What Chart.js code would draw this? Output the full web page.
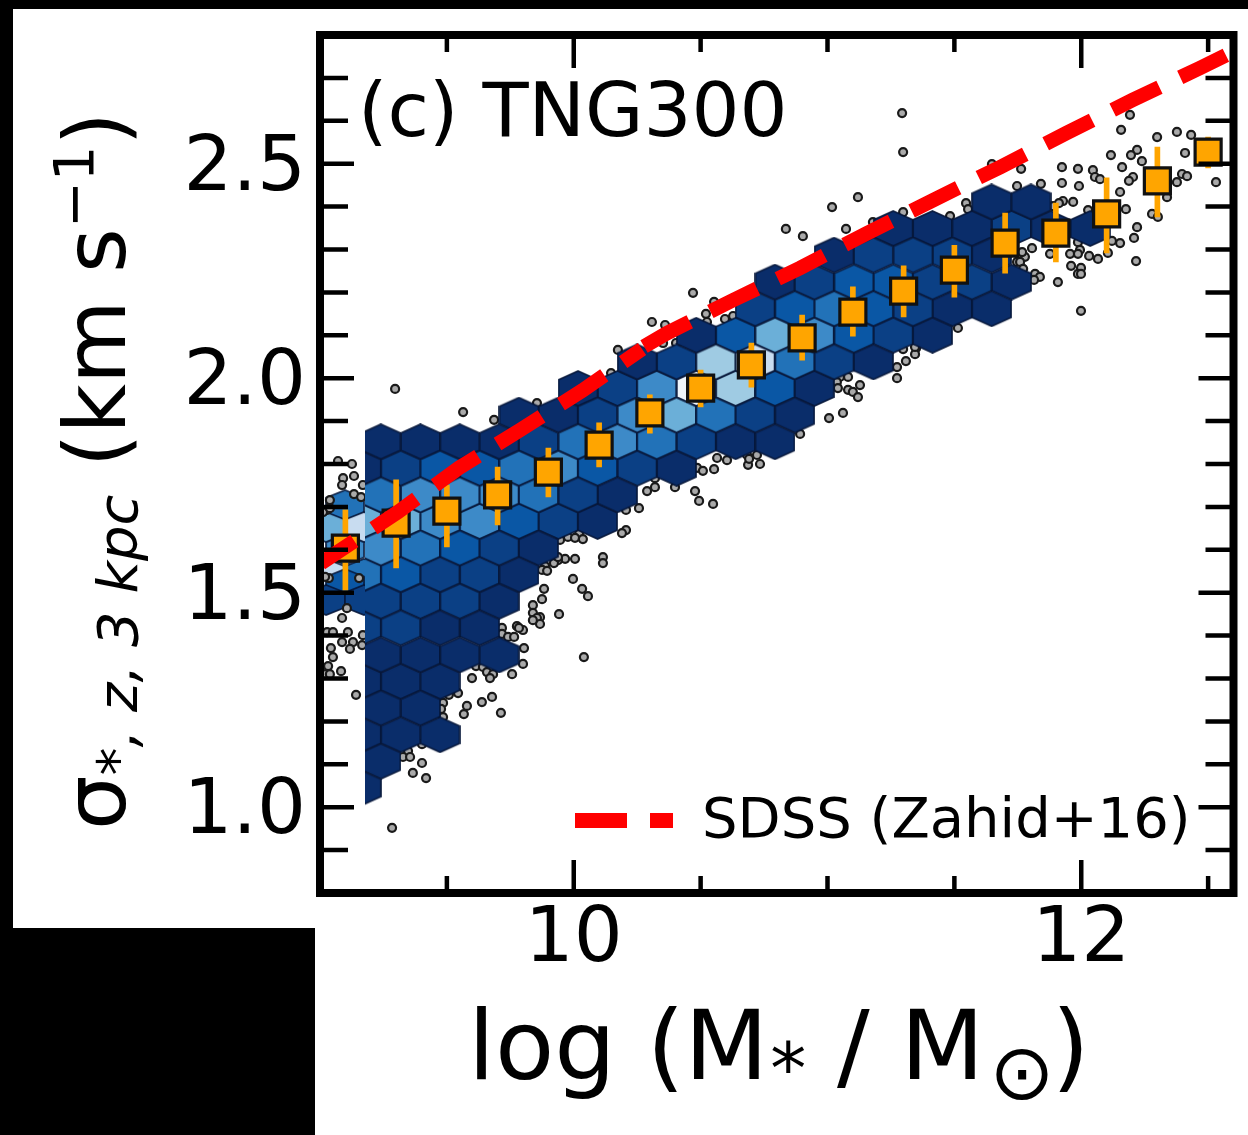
<!DOCTYPE html>
<html>
<head>
<meta charset="utf-8">
<title>TNG300</title>
<script src="https://cdn.jsdelivr.net/npm/chart.js@4"></script>
<style>
    html, body { margin: 0; padding: 0; background: #000; }
    #page { position: relative; width: 1248px; height: 1135px; overflow: hidden; background: #000; }
    .white { position: absolute; background: #fff; }
    #blurred { position: absolute; left: 0; top: 0; width: 1248px; height: 1135px; filter: blur(0.7px); }
    canvas { position: absolute; left: 0; top: 0; }
    .txt { position: absolute; font-family: "DejaVu Sans", sans-serif; color: #000; white-space: pre; line-height: 1; }
    #yTitle { transform-origin: 0 0; transform: rotate(-90deg); }
</style>
</head>
<body>
<div id="page">
    <div class="white" style="left:13px;top:9px;width:1235px;height:919px"></div>
    <div class="white" style="left:315px;top:928px;width:933px;height:207px"></div>
    <div id="blurred">
        <canvas id="myChart" width="1248" height="1135"></canvas>
        <div class="txt" style="left:358px;top:73px;font-size:75.5px">(c) TNG300</div>
        <div class="txt" style="left:575px;top:813px;width:52px;height:15px;background:#f00"></div>
        <div class="txt" style="left:650px;top:813px;width:23px;height:15px;background:#f00"></div>
        <div class="txt" style="left:702px;top:790px;font-size:56px">SDSS (Zahid+16)</div>
        <div class="txt" style="left:468px;top:997px;font-size:97px">log (M<span style="font-size:72px;position:relative;top:14px;margin-left:2px">*</span> / M<span style="font-size:78px;position:relative;top:20px;margin-left:5px">⊙</span><span style="margin-left:-3px">)</span></div>
        <div class="txt" id="yTitle" style="left:52px;top:830px;font-size:86px">σ<span style="font-size:56px;font-style:italic;position:relative;top:12px">*, z, 3 kpc</span><span> (km s</span><span style="font-size:56px;position:relative;top:-32px">−1</span>)</div>
    </div>
</div>
<script>
// Axes
const xTickLabels = [10, 12];
const yTickLabels = [1.0, 1.5, 2.0, 2.5];

// SDSS relation (Zahid+16), the dash pattern restarts where the two pieces meet
const sdssLowX = [9.004, 9.307, 9.548, 9.788, 10.036, 10.269];
const sdssLowY = [1.569, 1.688, 1.791, 1.879, 1.972, 2.068];
const sdssHighX = [10.277, 10.367, 10.628, 10.892, 11.156, 11.416, 11.68, 11.944, 12.204, 12.468, 12.57];
const sdssHighY = [2.074, 2.105, 2.182, 2.257, 2.338, 2.415, 2.492, 2.572, 2.649, 2.723, 2.753];

// Median in mass bins, with the scatter
const medianX = [9.1, 9.3, 9.5, 9.7, 9.9, 10.1, 10.3, 10.5, 10.7, 10.9, 11.1, 11.3, 11.5, 11.7, 11.9, 12.1, 12.3, 12.5];
const medianY = [1.604, 1.662, 1.69, 1.728, 1.781, 1.844, 1.919, 1.977, 2.031, 2.094, 2.154, 2.203, 2.252, 2.315, 2.338, 2.383, 2.46, 2.527];
const scatterHigh = [1.693, 1.763, 1.751, 1.793, 1.837, 1.896, 1.961, 2.019, 2.082, 2.147, 2.213, 2.262, 2.31, 2.385, 2.408, 2.467, 2.539, 2.562];
const scatterLow = [1.506, 1.558, 1.607, 1.658, 1.723, 1.793, 1.872, 1.933, 1.979, 2.042, 2.098, 2.143, 2.189, 2.245, 2.271, 2.292, 2.376, 2.49];

// Hexbin cells, one row per entry
const hexRowY = [2.411, 2.349, 2.287, 2.224, 2.162, 2.1, 2.038, 1.976, 1.914, 1.852, 1.79, 1.728, 1.666, 1.604, 1.542, 1.48, 1.418, 1.355, 1.293, 1.231, 1.169, 1.107, 1.045];
const hexRowX = [
    [11.647, 11.802],
    [11.259, 11.414, 11.569, 11.725, 11.88, 12.035],
    [11.026, 11.181, 11.337, 11.492, 11.647],
    [10.793, 10.948, 11.104, 11.259, 11.414, 11.569, 11.725],
    [10.715, 10.871, 11.026, 11.181, 11.337, 11.492, 11.647],
    [10.483, 10.638, 10.793, 10.948, 11.104, 11.259, 11.414],
    [10.25, 10.405, 10.56, 10.715, 10.871, 11.026, 11.181],
    [10.017, 10.172, 10.327, 10.483, 10.638, 10.793, 10.948],
    [9.784, 9.939, 10.094, 10.25, 10.405, 10.56, 10.715, 10.871],
    [9.24, 9.396, 9.551, 9.706, 9.861, 10.017, 10.172, 10.327, 10.483, 10.638, 10.793],
    [9.163, 9.318, 9.473, 9.629, 9.784, 9.939, 10.094, 10.25, 10.405],
    [9.24, 9.396, 9.551, 9.706, 9.861, 10.017, 10.172],
    [9.163, 9.318, 9.473, 9.629, 9.784, 9.939, 10.094],
    [9.24, 9.396, 9.551, 9.706, 9.861],
    [9.163, 9.318, 9.473, 9.629, 9.784],
    [9.24, 9.396, 9.551, 9.706],
    [9.163, 9.318, 9.473, 9.629],
    [9.24, 9.396, 9.551, 9.706],
    [9.163, 9.318, 9.473],
    [9.24, 9.396],
    [9.163, 9.318, 9.473],
    [9.24],
    [9.163]
];
const hexRowLevel = [
    [0, 0],
    [0, 0, 0, 1, 0, 0],
    [0, 1, 1, 1, 0],
    [0, 1, 2, 2, 1, 1, 0],
    [1, 2, 3, 2, 1, 0, 0],
    [0, 2, 5, 4, 2, 1, 0],
    [0, 1, 6, 7, 3, 1, 0],
    [0, 1, 4, 8, 6, 2, 0],
    [0, 0, 1, 4, 5, 3, 1, 0],
    [0, 0, 0, 0, 1, 3, 4, 3, 1, 0, 0],
    [0, 1, 2, 2, 3, 4, 2, 1, 0],
    [3, 4, 4, 4, 3, 1, 0],
    [5, 5, 4, 4, 2, 1, 0],
    [4, 3, 2, 1, 0],
    [3, 2, 1, 1, 0],
    [1, 1, 1, 0],
    [1, 1, 0, 0],
    [0, 0, 0, 0],
    [0, 0, 0],
    [0, 0],
    [0, 0, 0],
    [0],
    [0]
];

// The narrow strip of low-mass cells next to the y axis
const stripX = [9.099, 9.024, 9.173, 9.099, 9.024, 9.173, 9.099, 9.024, 9.173];
const stripY = [1.704, 1.653, 1.653, 1.6, 1.544, 1.544, 1.52, 1.483, 1.483];
const stripLevel = [3, 5, 7, 4, 7, 3, 2, 1, 1];

// Galaxies outside the hexbin
const outlierX = [
    9.071, 9.126, 9.134, 9.091, 9.087, 9.169, 9.134, 9.162, 9.039, 9.028, 9.012, 9.039, 9.035, 9.02, 9.154, 9.106,
    9.087, 9.11, 9.028, 9.051, 9.13, 9.166, 9.118, 9.043, 9.051, 9.087, 9.032, 9.083, 9.02, 9.039, 9.142, 9.169,
    9.296, 9.564, 9.686, 9.855, 9.284, 10.206, 10.206, 10.19, 10.115, 10.115, 10.021, 9.977, 10.005, 10.036, 9.946,
    10.005, 9.966, 9.938, 9.922, 9.938, 9.887, 9.875, 9.895, 9.997, 10.033, 10.056, 9.883, 9.875, 9.839, 9.839,
    9.867, 9.855, 9.867, 9.839, 9.942, 9.776, 9.8, 9.784, 9.717, 9.717, 9.741, 9.765, 9.804, 9.8, 9.757, 10.04,
    9.615, 9.642, 9.658, 9.682, 9.67, 9.599, 9.544, 9.508, 9.485, 9.477, 9.485, 9.579, 9.567, 9.638, 9.678, 9.713,
    9.402, 9.347, 9.327, 9.355, 9.402, 9.366, 9.418,
    11.12, 11.018, 10.836, 10.903, 11.073, 11.179, 11.168, 11.298, 10.47, 10.553, 10.521, 10.525, 10.596, 10.628,
    10.308, 10.36, 10.352, 10.403, 10.174, 10.147, 11.298, 11.349, 11.345, 11.309, 11.274, 11.274, 11.049, 11.081,
    11.037, 11.041, 11.128, 11.081, 11.1, 11.12, 11.006, 11.061, 10.892, 10.565, 10.604, 10.683, 10.722, 10.687,
    10.734, 10.486, 10.509, 10.553, 10.691, 10.257, 10.289, 10.32, 10.32, 10.399, 10.478, 10.494, 10.549,
    11.294, 11.298, 12.192, 12.157, 12.299, 12.377, 12.433, 12.22, 12.196, 12.117, 12.239, 12.409, 12.161, 12.397,
    12.417, 12.377, 12.204, 12.188, 12.531, 12.046, 12.054, 12.074, 11.924, 11.987, 11.924, 11.991, 12.153, 11.648,
    11.763, 11.747, 11.841, 11.546, 11.554, 11.483, 11.889, 11.928, 11.912, 11.968, 12.027, 12.176, 12.279, 12.302,
    12.338, 12.22, 12.208, 12.153, 12.121, 12.105, 12.216, 12.066, 12.031, 11.987, 11.995, 11.956, 11.987, 11.877,
    11.806, 11.778, 11.767, 11.747, 11.759, 11.771, 11.96, 11.999, 11.987, 11.999, 11.818, 11.837, 11.814, 11.908,
    11.999, 11.514, 11.345
];
const outlierY = [
    1.807, 1.8, 1.772, 1.767, 1.751, 1.751, 1.73, 1.723, 1.716, 1.693, 1.688, 1.697, 1.534, 1.537, 1.534, 1.464,
    1.441, 1.408, 1.408, 1.408, 1.385, 1.378, 1.369, 1.371, 1.35, 1.385, 1.329, 1.317, 1.31, 1.31, 1.262, 1.401,
    1.975, 1.921, 1.903, 1.942, 0.952, 1.693, 1.646, 1.639, 1.583, 1.569, 1.637, 1.63, 1.628, 1.625, 1.623,
    1.579, 1.579, 1.576, 1.569, 1.583, 1.562, 1.553, 1.551, 1.532, 1.509, 1.492, 1.509, 1.485, 1.471, 1.453,
    1.443, 1.441, 1.427, 1.436, 1.45, 1.422, 1.413, 1.418, 1.418, 1.404, 1.397, 1.397, 1.371, 1.334, 1.31, 1.35,
    1.329, 1.327, 1.315, 1.31, 1.301, 1.301, 1.266, 1.262, 1.243, 1.229, 1.21, 1.236, 1.217, 1.245, 1.257, 1.22,
    1.147, 1.131, 1.117, 1.117, 1.103, 1.08, 1.068,
    2.422, 2.399, 2.348, 2.331, 2.348, 2.364, 2.322, 2.387, 2.199, 2.178, 2.15, 2.131, 2.138, 2.145,
    2.131, 2.124, 2.082, 2.082, 2.066, 2.012, 2.068, 2.07, 2.056, 2.04, 2.026, 2.0, 2.003, 2.003,
    1.991, 1.977, 1.984, 1.973, 1.968, 1.956, 1.907, 1.919, 1.87, 1.814, 1.809, 1.821, 1.821, 1.798,
    1.8, 1.791, 1.784, 1.788, 1.812, 1.697, 1.737, 1.767, 1.746, 1.746, 1.737, 1.714, 1.707,
    2.618, 2.527, 2.614, 2.579, 2.562, 2.574, 2.567, 2.532, 2.52, 2.52, 2.506, 2.525, 2.492, 2.476,
    2.471, 2.457, 2.469, 2.46, 2.457, 2.485, 2.469, 2.464, 2.492, 2.488, 2.455, 2.448, 2.434, 2.499,
    2.488, 2.448, 2.453, 2.408, 2.394, 2.378, 2.401, 2.413, 2.408, 2.411, 2.392, 2.394, 2.383, 2.376,
    2.422, 2.352, 2.327, 2.315, 2.32, 2.292, 2.273, 2.278, 2.285, 2.317, 2.299, 2.29, 2.29, 2.29,
    2.303, 2.283, 2.294, 2.271, 2.271, 2.255, 2.262, 2.257, 2.243, 2.243, 2.243, 2.236, 2.229, 2.224,
    2.157, 2.117, 2.073
];

// Blues, darkest to palest
const hexColors = ['#0a2d6a', '#0b4085', '#0a57a5', '#2272b8', '#3d8ac8', '#6bafd8', '#9fcbe3', '#c8dcf0', '#eff5fb'];

// Hexagon stamp used as the point style of the hexbin datasets
function makeHex(color, w, h) {
    const c = document.createElement('canvas');
    c.width = w + 2;
    c.height = h + 2;
    const g = c.getContext('2d');
    const cx = c.width / 2, cy = c.height / 2;
    g.beginPath();
    g.moveTo(cx, cy - h / 2);
    g.lineTo(cx + w / 2, cy - h / 4);
    g.lineTo(cx + w / 2, cy + h / 4);
    g.lineTo(cx, cy + h / 2);
    g.lineTo(cx - w / 2, cy + h / 4);
    g.lineTo(cx - w / 2, cy - h / 4);
    g.closePath();
    g.fillStyle = color;
    g.fill();
    g.strokeStyle = 'rgba(6, 22, 58, 0.9)';
    g.lineWidth = 1.8;
    g.stroke();
    return c;
}
const hexStamps = hexColors.map(color => makeHex(color, 39, 35));
const stripStamps = hexColors.map(color => makeHex(color, 38, 30));

const hexCells = [];
const hexStyles = [];
hexRowY.forEach((y, r) => {
    hexRowX[r].forEach((x, i) => {
        hexCells.push({ x: x, y: y });
        hexStyles.push(hexStamps[hexRowLevel[r][i]]);
    });
});

const zip = (xs, ys) => xs.map((x, i) => ({ x: x, y: ys[i] }));

// Spines and inward ticks on all four sides
const frame = {
    id: 'frame',
    afterDatasetsDraw(chart) {
        const { ctx, chartArea: a, scales: { x, y } } = chart;
        ctx.save();
        ctx.strokeStyle = '#000';
        ctx.lineCap = 'butt';
        ctx.lineWidth = 4.5;
        x.ticks.forEach(t => {
            const px = x.getPixelForValue(t.value);
            const len = xTickLabels.includes(t.value) ? 33 : 17;
            ctx.beginPath();
            ctx.moveTo(px, a.top);
            ctx.lineTo(px, a.top + len);
            ctx.moveTo(px, a.bottom);
            ctx.lineTo(px, a.bottom - len);
            ctx.stroke();
        });
        y.ticks.forEach(t => {
            const py = y.getPixelForValue(t.value);
            const major = yTickLabels.includes(Math.round(t.value * 10) / 10);
            ctx.beginPath();
            ctx.moveTo(a.left, py);
            ctx.lineTo(a.left + (major ? 34 : 28), py);
            ctx.moveTo(a.right, py);
            ctx.lineTo(a.right - (major ? 35 : 28), py);
            ctx.stroke();
        });
        ctx.lineWidth = 8;
        ctx.lineJoin = 'miter';
        ctx.strokeRect(a.left, a.top, a.right - a.left, a.bottom - a.top);
        ctx.restore();
    }
};

const sdssStyle = {
    type: 'line',
    order: 0,
    borderColor: '#ff0000',
    borderWidth: 14.5,
    borderDash: [52, 23],
    borderCapStyle: 'butt',
    pointRadius: 0,
    fill: false,
    tension: 0
};

const ctx = document.getElementById('myChart').getContext('2d');
new Chart(ctx, {
    type: 'scatter',
    data: {
        datasets: [
            { ...sdssStyle, label: 'SDSS (Zahid+16)', data: zip(sdssLowX, sdssLowY), borderDashOffset: 12 },
            { ...sdssStyle, label: 'SDSS (Zahid+16), upper part', data: zip(sdssHighX, sdssHighY), borderDashOffset: 0 },
            {
                label: 'median',
                order: 1,
                data: zip(medianX, medianY),
                pointStyle: 'rect',
                pointRadius: 18.4,
                pointBackgroundColor: '#ffa500',
                pointBorderColor: '#111',
                pointBorderWidth: 3.2
            },
            {
                type: 'bar',
                label: 'scatter',
                order: 2,
                data: medianX.map((x, i) => ({ x: x, y: [scatterLow[i], scatterHigh[i]] })),
                backgroundColor: '#ffa500',
                barThickness: 5,
                borderWidth: 0
            },
            {
                label: 'hexbin',
                order: 3,
                data: hexCells,
                pointStyle: hexStyles,
                clip: { left: -45, top: 0, right: 0, bottom: 0 }
            },
            {
                label: 'outliers',
                order: 4,
                data: zip(outlierX, outlierY),
                pointRadius: 4,
                pointBackgroundColor: '#aaaaaa',
                pointBorderColor: '#1a1a1a',
                pointBorderWidth: 2.2
            },
            {
                label: 'strip',
                order: 5,
                data: zip(stripX, stripY),
                pointStyle: stripLevel.map(l => stripStamps[l]),
                clip: { left: 0, top: 0, right: -868, bottom: 0 }
            }
        ]
    },
    options: {
        responsive: false,
        animation: false,
        layout: { autoPadding: false, padding: { top: 35, right: 14.5, left: 0, bottom: 0 } },
        plugins: { legend: { display: false }, tooltip: { enabled: false } },
        scales: {
            x: {
                type: 'linear',
                min: 9,
                max: 12.6,
                offset: false,
                grid: { display: false },
                border: { display: false },
                afterFit: s => { s.height = 242; s.paddingLeft = 0; s.paddingRight = 0; },
                ticks: {
                    stepSize: 0.5,
                    includeBounds: false,
                    autoSkip: false,
                    maxRotation: 0,
                    padding: -6,
                    color: '#000',
                    font: { family: '"DejaVu Sans"', size: 77 },
                    callback: v => (xTickLabels.includes(v) ? String(v) : '')
                }
            },
            y: {
                type: 'linear',
                min: 0.8,
                max: 2.8,
                grid: { display: false },
                border: { display: false },
                afterFit: s => { s.width = 320; s.paddingTop = 0; s.paddingBottom = 0; },
                ticks: {
                    stepSize: 0.1,
                    includeBounds: false,
                    autoSkip: false,
                    padding: 6,
                    color: '#000',
                    // two-line label with a short line height moves the digits down a little
                    font: { family: '"DejaVu Sans"', size: 77, lineHeight: 0.156 },
                    callback: v => {
                        const r = Math.round(v * 10) / 10;
                        return yTickLabels.includes(r) ? ['', r.toFixed(1)] : '';
                    }
                }
            }
        }
    },
    plugins: [frame]
});
</script>
</body>
</html>
